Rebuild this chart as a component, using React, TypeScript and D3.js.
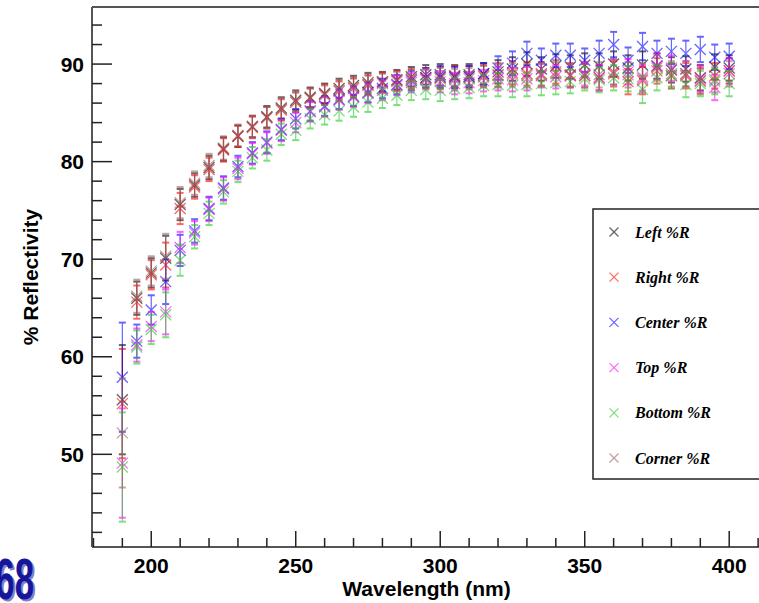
import React from "react";
import * as d3 from "d3";

const wavelengths = [190,195,200,205,210,215,220,225,230,235,240,245,250,255,260,265,270,275,280,285,290,295,300,305,310,315,320,325,330,335,340,345,350,355,360,365,370,375,380,385,390,395,400];

const leftR = [55.6,66.0,68.6,70.1,75.6,77.6,79.4,81.3,82.6,83.6,84.6,85.5,86.3,86.6,87.0,87.5,87.8,88.1,88.2,88.4,88.7,88.9,88.9,88.8,88.9,89.0,89.2,89.5,90.0,89.5,89.8,89.7,89.9,89.8,90.0,89.6,89.9,89.8,89.4,89.5,88.6,89.7,89.6];
const rightR = [55.2,65.6,68.4,69.4,75.2,77.4,79.2,81.2,82.6,83.5,84.5,85.3,86.1,86.5,86.9,87.3,87.6,87.9,88.1,88.3,88.5,88.6,88.6,88.7,88.7,88.8,88.9,89.1,89.0,89.0,89.2,88.9,88.8,88.6,89.0,88.2,88.3,89.3,88.8,88.8,88.3,88.8,89.3];
const centerR = [57.9,61.6,64.8,67.7,70.9,72.9,75.2,77.3,79.5,80.9,82.0,83.3,84.4,85.2,85.7,86.4,86.7,87.1,87.5,87.9,88.3,88.6,88.7,88.6,88.7,89.0,89.6,90.1,91.1,90.4,90.9,90.9,90.4,91.1,92.0,90.4,91.8,91.1,91.3,91.1,91.5,90.7,90.8];
const topR = [49.1,61.2,63.1,64.6,71.2,72.7,75.1,77.2,79.3,80.8,81.9,83.2,84.0,85.1,85.6,86.3,86.6,87.0,87.3,87.8,88.1,88.4,88.2,88.0,88.1,88.3,88.5,88.4,88.5,88.8,88.7,88.8,89.0,88.6,89.2,89.2,88.5,89.8,89.6,89.0,88.5,87.6,89.3];
const bottomR = [48.7,61.0,62.8,64.3,69.9,72.3,74.7,76.9,79.0,80.4,81.2,82.8,83.2,84.4,84.8,85.2,85.6,86.1,86.5,86.8,87.3,87.4,87.3,87.5,87.6,87.8,87.9,87.8,87.9,88.0,88.1,88.2,88.5,88.4,88.6,88.5,87.4,88.6,88.8,87.9,88.0,88.2,88.0];
const cornerR = [52.2,66.2,68.8,70.3,75.8,77.8,79.6,81.4,82.7,83.6,84.5,85.4,86.1,86.5,86.8,87.2,87.5,87.8,88.0,88.2,88.4,88.5,88.5,88.4,88.5,88.7,88.8,88.9,88.8,88.9,89.0,88.8,88.8,88.9,89.2,88.9,88.7,89.6,89.0,89.0,88.2,88.4,89.0];
const errors = [5.6,1.7,1.5,2.3,1.6,1.2,1.2,1.2,1.1,1.1,1.1,1.1,1.0,1.0,1.0,1.0,1.0,1.0,1.0,1.0,1.0,1.0,1.1,1.1,1.1,1.1,1.2,1.2,1.2,1.2,1.2,1.2,1.2,1.3,1.3,1.3,1.4,1.3,1.3,1.3,1.3,1.3,1.3];

const seriesNames = ["Left %R","Right %R","Center %R","Top %R","Bottom %R","Corner %R"];
const seriesValues = [leftR,rightR,centerR,topR,bottomR,cornerR];
const seriesColors = ["#000000","#ff0000","#0000ff","#ff00ff","#22cc22","#996666"];

const xMajor = [200,250,300,350,400];
const xMinor = [180,190,210,220,230,240,260,270,280,290,310,320,330,340,360,370,380,390,410];
const yMajor = [50,60,70,80,90];
const yMinor = [42,44,46,48,52,54,56,58,62,64,66,68,72,74,76,78,82,84,86,88,92,94];

const W = 759, H = 603;
const L = 92, R = 761, T = 7, B = 547;

export default function App() {
  const x = d3.scaleLinear().domain([179.5, 411]).range([L, R]);
  const y = d3.scaleLinear().domain([40.5, 95.85]).range([B, T]);
  const ms = 5.5;
  const labelFont = "'Liberation Sans', Arial, Helvetica, sans-serif";
  return (
    <svg width={W} height={H} style={{ position: "absolute", left: 0, top: 0, background: "#fff" }}>
      <rect x={0} y={0} width={W} height={H} fill="#fff" />
      <defs>
        <clipPath id="plotclip"><rect x={L} y={T} width={R - L} height={B - T} /></clipPath>
      </defs>
      {/* data */}
      <g clipPath="url(#plotclip)">
        {seriesValues.map((vals, si) => (
          <g key={si} stroke={seriesColors[si]} opacity={0.6} fill="none">
            {vals.map((v, i) => {
              const cx = x(wavelengths[i]);
              const cy = y(v);
              const yt = y(v + errors[i]);
              const yb = y(v - errors[i]);
              return (
                <g key={i}>
                  <line x1={cx} x2={cx} y1={yt} y2={yb} strokeWidth={1.2} />
                  <line x1={cx - 3.5} x2={cx + 3.5} y1={yt} y2={yt} strokeWidth={2} />
                  <line x1={cx - 3.5} x2={cx + 3.5} y1={yb} y2={yb} strokeWidth={2} />
                  <line x1={cx - ms} x2={cx + ms} y1={cy - ms} y2={cy + ms} strokeWidth={1.3} />
                  <line x1={cx - ms} x2={cx + ms} y1={cy + ms} y2={cy - ms} strokeWidth={1.3} />
                </g>
              );
            })}
          </g>
        ))}
      </g>
      {/* frame */}
      <g stroke="#555" strokeWidth={2} fill="none">
        <line x1={L} x2={R + 5} y1={T} y2={T} />
        <line x1={L} x2={L} y1={T} y2={B} />
        <line x1={L} x2={R + 5} y1={B} y2={B} />
      </g>
      {/* x ticks */}
      <g stroke="#222" strokeWidth={1.5}>
        {xMajor.map((t) => (
          <line key={"xM" + t} x1={x(t)} x2={x(t)} y1={B} y2={B - 16} />
        ))}
        {xMinor.map((t) => (
          <line key={"xm" + t} x1={x(t)} x2={x(t)} y1={B} y2={B - 9} />
        ))}
        {yMajor.map((t) => (
          <line key={"yM" + t} x1={L} x2={L + 20} y1={y(t)} y2={y(t)} />
        ))}
        {yMinor.map((t) => (
          <line key={"ym" + t} x1={L} x2={L + 10} y1={y(t)} y2={y(t)} />
        ))}
      </g>
      {/* tick labels */}
      <g fontFamily={labelFont} fontWeight="bold" fontSize={21} fill="#000">
        {xMajor.map((t) => (
          <text key={"xl" + t} x={x(t)} y={573} textAnchor="middle">{t}</text>
        ))}
        {yMajor.map((t) => (
          <text key={"yl" + t} x={84} y={y(t) + 7.5} textAnchor="end">{t}</text>
        ))}
        <text x={(L + R) / 2} y={596} textAnchor="middle">Wavelength (nm)</text>
        <text transform={`translate(38, ${(T + B) / 2}) rotate(-90)`} textAnchor="middle">% Reflectivity</text>
      </g>
      {/* legend */}
      <rect x={593} y={209} width={180} height={270} fill="#fff" stroke="#222" strokeWidth={1.5} />
      {seriesNames.map((n, i) => {
        const ly = 232 + i * 45.2;
        return (
          <g key={n}>
            <g stroke={seriesColors[i]} opacity={0.6} strokeWidth={1.2}>
              <line x1={614 - 4.5} x2={614 + 4.5} y1={ly - 4.5} y2={ly + 4.5} />
              <line x1={614 - 4.5} x2={614 + 4.5} y1={ly + 4.5} y2={ly - 4.5} />
            </g>
            <text x={635} y={ly + 5.5} fontFamily="'Liberation Serif', 'Times New Roman', serif" fontStyle="italic" fontWeight="bold" fontSize={16} fill="#000">{n}</text>
          </g>
        );
      })}
      {/* corner label */}
      <g fontFamily={labelFont} fontWeight="bold" fontSize={58}>
        <text transform="translate(36, 601) scale(0.6,1)" textAnchor="end" fill="#8080cc">68</text>
        <text transform="translate(34, 599) scale(0.6,1)" textAnchor="end" fill="#16169a">68</text>
      </g>
    </svg>
  );
}
